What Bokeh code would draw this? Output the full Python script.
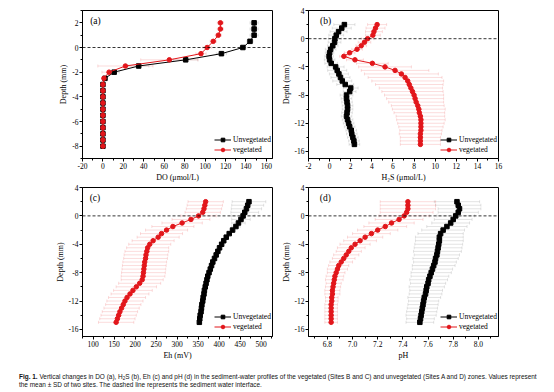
import numpy as np
from bokeh.plotting import figure
from bokeh.models import (ColumnDataSource, Whisker, TeeHead, Span, Label,
                          FixedTicker, Div)
from bokeh.layouts import column, row
from bokeh.embed import file_html
from bokeh.resources import INLINE

# ---------------- data ----------------
depth_a = [2, 1.5, 1, 0.5, 0, -0.5, -1, -1.5, -2, -2.5, -3, -3.5, -4, -4.5,
           -5, -5.5, -6, -6.5, -7, -7.5, -8]
do_unveg = [148, 148, 148, 144, 137, 116, 81, 35, 11, 2, 0, 0, 0, 0, 0, 0, 0, 0, 0, 0, 0]
do_veg = [115, 115, 113, 108, 102, 96, 65, 22, 6, 1, 0, 0, 0, 0, 0, 0, 0, 0, 0, 0, 0]
do_unveg_sd = [4, 4, 4, 3, 3, 5, 12, 10, 5, 2, 0, 0, 0, 0, 0, 0, 0, 0, 0, 0, 0]
do_veg_sd = [3, 3, 3, 3, 4, 5, 28, 27, 7, 2, 0, 0, 0, 0, 0, 0, 0, 0, 0, 0, 0]

depth_b = [2, 1.5, 1, 0.5, 0, -0.5, -1, -1.5, -2, -2.5, -3, -3.5, -4, -4.5, -5,
           -5.5, -6, -6.5, -7, -7.5, -8, -8.5, -9, -9.5, -10, -10.5, -11, -11.5,
           -12, -12.5, -13, -13.5, -14, -14.5, -15]
h2s_unveg = [1.4, 1.15, 0.85, 0.63, 0.5, 0.47, 0.3, 0.1, 0.0, -0.05, 0.0, 0.15,
             0.57, 0.72, 0.88, 1.03, 1.2, 1.48, 2.0, 1.9, 1.6, 1.6, 1.65, 1.7,
             1.7, 1.65, 1.6, 1.7, 1.8, 1.9, 2.05, 2.1, 2.2, 2.3, 2.35]
h2s_veg = [4.5, 4.35, 4.2, 4.1, 3.6, 3.3, 3.0, 2.6, 1.9, 1.35, 2.4, 4.05, 5.25,
           6.2, 6.8, 7.15, 7.4, 7.55, 7.7, 7.85, 8.0, 8.1, 8.2, 8.35, 8.45, 8.5,
           8.6, 8.65, 8.65, 8.65, 8.65, 8.6, 8.6, 8.6, 8.6]
h2s_unveg_sd = [1.0, 0.9, 0.8, 0.7, 0.6, 0.6, 0.5, 0.5, 0.4, 0.4, 0.5, 0.6, 0.8,
                0.9, 0.9, 0.9, 0.9, 0.8, 0.7, 0.6, 0.6, 0.5, 0.5, 0.5, 0.5, 0.5,
                0.5, 0.5, 0.5, 0.5, 0.5, 0.5, 0.5, 0.5, 0.5]
h2s_veg_sd = [0.9, 0.9, 0.8, 0.7, 0.6, 0.6, 0.5, 0.5, 0.5, 0.4, 0.8, 1.5, 2.5,
              3.2, 3.5, 3.5, 3.4, 3.2, 3.0, 2.9, 2.8, 2.7, 2.6, 2.5, 2.5, 2.4,
              2.3, 2.3, 2.2, 2.1, 2.0, 2.0, 1.9, 1.9, 1.9]

eh_unveg = [471, 468, 465, 461, 457, 452, 446, 440, 432, 424, 417, 411, 406, 401,
            397, 393, 389, 385, 382, 379, 376, 373, 371, 369, 367, 365, 364, 362,
            361, 359, 358, 357, 355, 354, 353]
eh_veg = [368, 366, 364, 361, 351, 333, 312, 290, 275, 263, 255, 243, 235, 230,
          228, 226, 225, 223, 222, 221, 220, 219, 217, 211, 203, 195, 188, 181,
          176, 172, 168, 164, 161, 158, 155]
eh_unveg_sd = [40, 38, 36, 33, 28, 22, 16, 10, 6, 4, 3, 3, 3, 3, 3, 3, 3, 3, 3,
               3, 3, 3, 3, 3, 3, 3, 3, 3, 3, 3, 3, 3, 3, 3, 3]
eh_veg_sd = [42, 42, 42, 42, 42, 45, 48, 50, 50, 50, 50, 50, 50, 50, 52, 52, 52,
             52, 52, 52, 52, 52, 50, 50, 48, 46, 45, 44, 43, 42, 42, 42, 42, 42, 42]

ph_unveg = [7.83, 7.84, 7.85, 7.84, 7.82, 7.80, 7.78, 7.75, 7.72, 7.70, 7.69,
            7.69, 7.685, 7.68, 7.675, 7.67, 7.66, 7.655, 7.645, 7.635, 7.625,
            7.615, 7.605, 7.60, 7.59, 7.585, 7.58, 7.57, 7.565, 7.56, 7.555,
            7.55, 7.545, 7.54, 7.535]
ph_veg = [7.44, 7.44, 7.44, 7.43, 7.41, 7.37, 7.31, 7.26, 7.20, 7.15, 7.10,
          7.06, 7.02, 6.99, 6.97, 6.95, 6.93, 6.91, 6.89, 6.88, 6.87, 6.86,
          6.855, 6.85, 6.845, 6.84, 6.84, 6.835, 6.835, 6.83, 6.83, 6.83, 6.83,
          6.83, 6.83]
ph_unveg_sd = [0.18, 0.18, 0.17, 0.16, 0.15, 0.15, 0.15, 0.16, 0.17, 0.18, 0.19,
               0.19, 0.19, 0.19, 0.19, 0.18, 0.18, 0.17, 0.17, 0.16, 0.16, 0.15,
               0.15, 0.14, 0.14, 0.13, 0.13, 0.13, 0.12, 0.12, 0.12, 0.12, 0.12,
               0.11, 0.11]
ph_veg_sd = [0.22, 0.22, 0.22, 0.21, 0.2, 0.19, 0.18, 0.17, 0.16, 0.15, 0.14,
             0.13, 0.12, 0.11, 0.1, 0.1, 0.09, 0.09, 0.08, 0.08, 0.07, 0.07,
             0.07, 0.06, 0.06, 0.06, 0.06, 0.05, 0.05, 0.05, 0.05, 0.05, 0.05,
             0.05, 0.05]

series_names = ["Unvegetated", "vegetated"]

xticks_a = [-20, 0, 20, 40, 60, 80, 100, 120, 140, 160]
xlabels_a = ["-20", "0", "20", "40", "60", "80", "100", "120", "140", "160"]
xminor_a = [-10, 10, 30, 50, 70, 90, 110, 130, 150]
yticks_a = [-8, -6, -4, -2, 0, 2]
ylabels_a = ["-8", "-6", "-4", "-2", "0", "2"]
yminor_a = [-9, -7, -5, -3, -1, 1, 3]

xticks_b = [-2, 0, 2, 4, 6, 8, 10, 12, 14, 16]
xlabels_b = ["-2", "0", "2", "4", "6", "8", "10", "12", "14", "16"]
xminor_b = [-1, 1, 3, 5, 7, 9, 11, 13, 15]

xticks_c = [100, 150, 200, 250, 300, 350, 400, 450, 500]
xlabels_c = ["100", "150", "200", "250", "300", "350", "400", "450", "500"]
xminor_c = [75, 125, 175, 225, 275, 325, 375, 425, 475, 525]

xticks_d = [6.8, 7.0, 7.2, 7.4, 7.6, 7.8, 8.0]
xlabels_d = ["6.8", "7.0", "7.2", "7.4", "7.6", "7.8", "8.0"]
xminor_d = [6.7, 6.9, 7.1, 7.3, 7.5, 7.7, 7.9, 8.1]

yticks_16 = [-16, -12, -8, -4, 0, 4]
ylabels_16 = ["-16", "-12", "-8", "-4", "0", "4"]
yminor_16 = [-14, -10, -6, -2, 2]

# ---------------- style ----------------
SERIF = "Liberation Serif"
RED = "#e2161b"
BLACK = "#000000"


def panel(depth, xu, xv, sdu, sdv, xr, yr, xt, xl, xm, yt, yl, ym, xtitle,
          tag, tag_x, tag_y, left, right, top, bottom, fw, fh, legend_x, legend_y):
    p = figure(frame_width=fw, frame_height=fh, x_range=xr, y_range=yr,
               output_backend="svg", toolbar_location=None,
               min_border_left=left, min_border_right=right,
               min_border_top=top, min_border_bottom=bottom)
    p.grid.visible = False
    p.outline_line_color = "black"
    p.outline_line_alpha = 1
    p.outline_line_width = 1
    p.xaxis.ticker = FixedTicker(ticks=xt, minor_ticks=xm)
    p.yaxis.ticker = FixedTicker(ticks=yt, minor_ticks=ym)
    p.xaxis.major_label_overrides = dict(zip(xt, xl))
    p.yaxis.major_label_overrides = dict(zip(yt, yl))
    p.xaxis.axis_label = xtitle
    p.yaxis.axis_label = "Depth (mm)"
    for ax in (p.xaxis[0], p.yaxis[0]):
        ax.major_tick_out = 3
        ax.major_tick_in = 0
        ax.minor_tick_out = 2
        ax.minor_tick_in = 0
        ax.axis_line_color = "black"
        ax.major_tick_line_color = "black"
        ax.minor_tick_line_color = "black"
        ax.major_label_text_font = SERIF
        ax.major_label_text_font_size = "7.5px"
        ax.major_label_text_color = "black"
        ax.axis_label_text_font = SERIF
        ax.axis_label_text_font_size = "8px"
        ax.axis_label_text_font_style = "normal"
        ax.axis_label_text_color = "black"
        ax.major_label_standoff = 1
        ax.axis_label_standoff = 1

    for xs, sd, col, alpha in ((xu, sdu, "#a8a8a8", 0.55), (xv, sdv, "#f08a8a", 0.5)):
        xs_a = np.array(xs, dtype=float)
        sd_a = np.array(sd, dtype=float)
        src = ColumnDataSource(dict(y=depth, lo=xs_a - sd_a, hi=xs_a + sd_a))
        w = Whisker(source=src, base="y", lower="lo", upper="hi",
                    dimension="width", line_color=col, line_alpha=alpha,
                    line_width=0.6, level="underlay",
                    upper_head=TeeHead(size=3, line_color=col, line_alpha=alpha, line_width=0.6),
                    lower_head=TeeHead(size=3, line_color=col, line_alpha=alpha, line_width=0.6))
        p.add_layout(w)

    p.add_layout(Span(location=0, dimension="width", line_color="black",
                      line_dash="3 2", line_width=0.8))

    p.line(xu, depth, line_color=BLACK, line_width=1, legend_label=series_names[0])
    p.scatter(xu, depth, marker="square", size=4.5, fill_color=BLACK,
              line_color=BLACK, legend_label=series_names[0])
    p.line(xv, depth, line_color=RED, line_width=1, legend_label=series_names[1])
    p.scatter(xv, depth, marker="circle", size=4.5, fill_color=RED,
              line_color=RED, legend_label=series_names[1])

    lg = p.legend[0]
    lg.location = (legend_x, legend_y)
    lg.background_fill_alpha = 0
    lg.border_line_alpha = 0
    lg.padding = 0
    lg.margin = 0
    lg.spacing = 1
    lg.glyph_width = 17
    lg.glyph_height = 9
    lg.label_height = 9
    lg.label_standoff = 2
    lg.label_text_font = SERIF
    lg.label_text_font_size = "7.5px"
    lg.label_text_color = "black"

    p.add_layout(Label(x=tag_x, y=tag_y, text=tag, text_font=SERIF,
                       text_font_size="9.5px", text_color="black",
                       text_baseline="middle", text_align="left"))
    return p


pa = panel(depth_a, do_unveg, do_veg, do_unveg_sd, do_veg_sd, (-20, 166), (-9, 3),
           xticks_a, xlabels_a, xminor_a, yticks_a, ylabels_a, yminor_a,
           "DO (μmol/L)", "(a)", -12.5, 2.15, 82, 6, 10, 25, 190, 148, 132, 4)
pb = panel(depth_b, h2s_unveg, h2s_veg, h2s_unveg_sd, h2s_veg_sd, (-2, 16), (-17, 4),
           xticks_b, xlabels_b, xminor_b, yticks_16, ylabels_16, yminor_16,
           "H₂S (μmol/L)", "(b)", -0.9, 2.5, 20, 50, 10, 25, 190, 148, 132, 4)
pc = panel(depth_b, eh_unveg, eh_veg, eh_unveg_sd, eh_veg_sd, (75, 527), (-17, 4),
           xticks_c, xlabels_c, xminor_c, yticks_16, ylabels_16, yminor_16,
           "Eh (mV)", "(c)", 92, 2.5, 82, 6, 3, 25, 190, 149, 132, 5)
pd_ = panel(depth_b, ph_unveg, ph_veg, ph_unveg_sd, ph_veg_sd, (6.65, 8.16), (-17, 4),
            xticks_d, xlabels_d, xminor_d, yticks_16, ylabels_16, yminor_16,
            "pH", "(d)", 6.74, 2.5, 20, 50, 3, 25, 190, 149, 132, 5)

caption_html = (
    '<div style="font-family:\'Liberation Sans\',Arial,sans-serif;font-size:6.45px;'
    'line-height:8px;padding:11px 0 0 19px;white-space:nowrap;color:#111;">'
    '<b>Fig. 1.</b> Vertical changes in DO (a), H<span style="font-size:4.5px;vertical-align:-1px;line-height:0">2</span>S (b), '
    'Eh (c) and pH (d) in the sediment-water profiles of the vegetated (Sites B and C) '
    'and unvegetated (Sites A and D) zones. Values represent<br>'
    'the mean ± SD of two sites. The dashed line represents the sediment water interface.'
    '</div>')
caption = Div(text=caption_html, width=540, height=30, margin=(0, 0, 0, 0))

layout = column(row(pa, pb), row(pc, pd_), caption)
open("out.html", "w").write(file_html(layout, INLINE))
